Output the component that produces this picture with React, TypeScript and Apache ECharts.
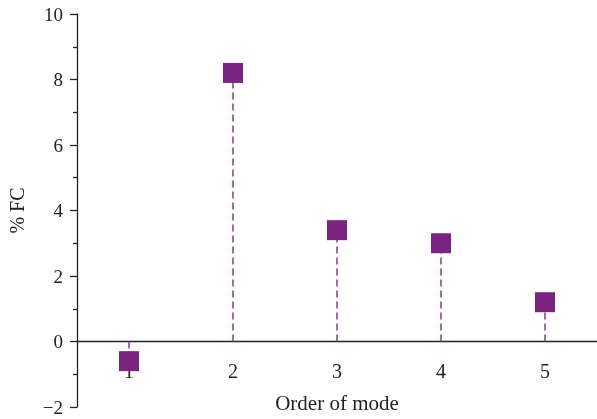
import React, { useEffect, useRef } from "react";
import * as echarts from "echarts";

const categories = ["1", "2", "3", "4", "5"];
const values = [-0.6, 8.2, 3.4, 3.0, 1.2];
const yMin = -2;
const yMax = 10;
const yInterval = 2;

const FONT = "Liberation Serif";
const PURPLE = "#7b2482";
const GRID_TOP = 14;
const GRID_BOTTOM = 12;
const HEIGHT = 419;

export default function App() {
  const ref = useRef<HTMLDivElement>(null);
  useEffect(() => {
    if (!ref.current) return;
    const chart = echarts.init(ref.current, undefined, { renderer: "svg" });
    const stems = categories.map((c, i) => [
      { coord: [c, 0] },
      { coord: [c, values[i]] },
    ]);
    const plotH = HEIGHT - GRID_TOP - GRID_BOTTOM;
    const zeroOffset = -((0 - yMin) / (yMax - yMin)) * plotH;
    chart.setOption({
      animation: false,
      grid: { left: 77, right: 0, top: GRID_TOP, bottom: GRID_BOTTOM, containLabel: false, outerBoundsMode: "none" },
      xAxis: {
        type: "category",
        data: categories,
        boundaryGap: true,
        offset: zeroOffset,
        z: 0,
        name: "Order of mode",
        nameLocation: "middle",
        nameGap: 51,
        nameTextStyle: { fontFamily: FONT, fontSize: 21, color: "#222" },
        axisLine: { onZero: false, lineStyle: { color: "#222", width: 1.3 } },
        axisTick: { alignWithLabel: true, length: 12, lineStyle: { color: "#222", width: 1.3 } },
        axisLabel: { fontFamily: FONT, fontSize: 20, color: "#222", margin: 19 },
        splitLine: { show: false },
      },
      yAxis: {
        type: "value",
        min: yMin,
        max: yMax,
        interval: yInterval,
        name: "% FC",
        nameLocation: "middle",
        nameGap: 50,
        nameRotate: 90,
        nameTextStyle: { fontFamily: FONT, fontSize: 20, color: "#222" },
        axisLine: { show: true, lineStyle: { color: "#222", width: 1.3 } },
        axisTick: { show: true, length: 7, lineStyle: { color: "#222", width: 1.3 } },
        minorTick: { show: true, splitNumber: 2, length: 4, lineStyle: { color: "#222", width: 1.3 } },
        axisLabel: {
          fontFamily: FONT,
          fontSize: 19,
          color: "#222",
          margin: 14,
          formatter: (v: number) => (v < 0 ? "\u2212" + Math.abs(v) : String(v)),
        },
        splitLine: { show: false },
      },
      series: [
        {
          type: "scatter",
          data: values,
          symbol: "rect",
          symbolSize: 20,
          itemStyle: { color: PURPLE, opacity: 1 },
          z: 10,
          markLine: {
            silent: true,
            symbol: ["none", "none"],
            label: { show: false },
            lineStyle: { color: "#8a3690", type: [7, 4], width: 1.5 },
            data: stems,
          },
        },
      ],
    });
    return () => chart.dispose();
  }, []);
  return (
    <div
      ref={ref}
      style={{ position: "fixed", left: 0, top: 0, width: 597, height: HEIGHT }}
    />
  );
}
